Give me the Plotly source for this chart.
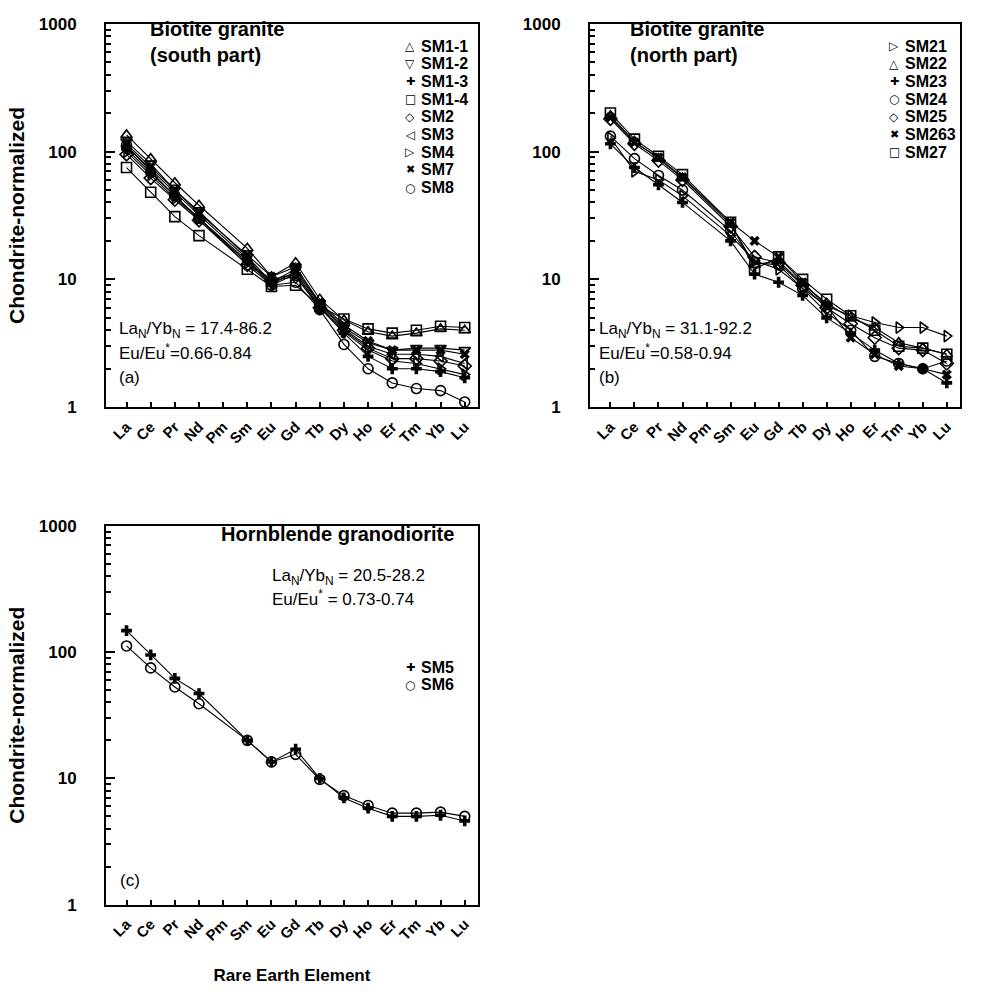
import plotly.graph_objects as go

elements = ["La", "Ce", "Pr", "Nd", "Pm", "Sm", "Eu", "Gd", "Tb", "Dy", "Ho", "Er", "Tm", "Yb", "Lu"]

# Panel (a): biotite granite, south part
SM1_1 = [135, 88, 57, 38, None, 17.5, 10.5, 13.5, 7.0, 4.8, 3.9, 3.6, 3.8, 4.1, 4.0]
SM1_2 = [120, 80, 50, 34, None, 15.0, 9.5, 12.0, 6.5, 4.2, 3.2, 2.8, 2.9, 2.9, 2.8]
SM1_3 = [105, 68, 45, 30, None, 14.0, 9.0, 11.0, 6.0, 3.8, 2.5, 2.0, 2.0, 1.9, 1.7]
SM1_4 = [75, 48, 31, 22, None, 12.0, 8.8, 9.0, 6.2, 4.9, 4.1, 3.8, 4.0, 4.3, 4.2]
SM2 = [95, 62, 42, 29, None, 13.0, 9.8, 10.5, 6.0, 4.0, 2.9, 2.4, 2.4, 2.3, 2.1]
SM3 = [110, 72, 48, 32, None, 14.5, 9.2, 11.5, 6.4, 4.1, 3.0, 2.6, 2.6, 2.5, 2.2]
SM4 = [100, 66, 43, 30, None, 13.5, 10.0, 11.0, 6.2, 3.9, 2.8, 2.3, 2.2, 2.0, 1.8]
SM7 = [115, 76, 50, 33, None, 15.5, 10.5, 12.5, 6.6, 4.4, 3.3, 2.8, 2.8, 2.8, 2.6]
SM8 = [112, 70, 45, 30, None, 13.0, 9.0, 9.5, 5.8, 3.1, 2.0, 1.55, 1.4, 1.35, 1.1]

# Panel (b): biotite granite, north part
SM21 = [128, 70, 60, 45, None, 22, 14, 12, 8.5, 6.2, 5.2, 4.6, 4.2, 4.2, 3.6]
SM22 = [190, 120, 88, 62, None, 27, 13, 14, 9.2, 6.5, 5.0, 4.2, 3.2, 2.9, 2.6]
SM23 = [115, 75, 55, 40, None, 20, 11, 9.5, 7.5, 5.0, 3.8, 2.8, 2.2, 2.0, 1.55]
SM24 = [132, 88, 65, 50, None, 24, 13.5, 13, 8.5, 5.5, 4.0, 2.5, 2.2, 2.0, 2.3]
SM25 = [180, 115, 85, 60, None, 26, 15, 13.5, 9.0, 6.0, 4.5, 3.5, 2.9, 2.8, 2.2]
SM263 = [185, 118, 90, 63, None, 28, 20, 15, 9.5, 6.2, 3.5, 2.6, 2.1, 2.0, 1.8]
SM27 = [200, 125, 92, 66, None, 28, 12, 15, 10, 7.0, 5.2, 4.0, 3.0, 2.9, 2.6]

# Panel (c): hornblende granodiorite
SM5 = [148, 95, 62, 47, None, 20, 13.5, 17, 10, 7.0, 5.8, 5.0, 5.0, 5.1, 4.6]
SM6 = [112, 75, 53, 39, None, 20, 13.5, 15.5, 9.8, 7.3, 6.1, 5.3, 5.3, 5.4, 5.0]

panel_a = [("SM1-1", SM1_1, "triangle-up-open", "△"), ("SM1-2", SM1_2, "triangle-down-open", "▽"),
           ("SM1-3", SM1_3, "cross", "✚"), ("SM1-4", SM1_4, "square-open", "□"),
           ("SM2", SM2, "diamond-open", "◇"), ("SM3", SM3, "triangle-left-open", "◁"),
           ("SM4", SM4, "triangle-right-open", "▷"), ("SM7", SM7, "x", "✖"), ("SM8", SM8, "circle-open", "○")]
panel_b = [("SM21", SM21, "triangle-right-open", "▷"), ("SM22", SM22, "triangle-up-open", "△"),
           ("SM23", SM23, "cross", "✚"), ("SM24", SM24, "circle-open", "○"),
           ("SM25", SM25, "diamond-open", "◇"), ("SM263", SM263, "x", "✖"), ("SM27", SM27, "square-open", "□")]
panel_c = [("SM5", SM5, "cross", "✚"), ("SM6", SM6, "circle-open", "○")]

W, H = 982, 995
FONT = "Liberation Sans, Arial, sans-serif"

fig = go.Figure()

def px(x):
    return x / W

def py(y):
    return 1 - y / H

def add_panel(series, xa, ya):
    for name, vals, sym, _ in series:
        filled = sym in ("cross", "x")
        fig.add_trace(go.Scatter(
            x=elements, y=vals, mode="lines+markers", connectgaps=True, name=name,
            xaxis=xa, yaxis=ya, showlegend=False,
            line=dict(color="black", width=1.1),
            marker=dict(symbol=sym, size=10 if not filled else 9, color="black",
                        line=dict(color="black", width=1.6 if not filled else 0)),
        ))

add_panel(panel_a, "x", "y")
add_panel(panel_b, "x2", "y2")
add_panel(panel_c, "x3", "y3")

minor_vals = [m * 10 ** e for e in range(0, 3) for m in range(2, 10)]

def xaxis(domain, anchor, title=None):
    d = dict(domain=domain, anchor=anchor, type="category", range=[-0.85, 14.55],
             categoryorder="array", categoryarray=elements,
             showline=True, linecolor="black", linewidth=2, mirror=True,
             ticks="inside", ticklen=5, tickwidth=1.5, tickcolor="black",
             showgrid=False, zeroline=False, showticklabels=True,
             tickangle=-45, ticklabelstandoff=3,
             tickfont=dict(family=FONT, size=15, color="black"))
    if title:
        d["title"] = dict(text="<b>" + title + "</b>", font=dict(family=FONT, size=17, color="black"), standoff=26)
    return d

def yaxis(domain, anchor, title=None):
    d = dict(domain=domain, anchor=anchor, type="log", range=[0, 3],
             tickvals=[1, 10, 100, 1000], ticktext=["<b>1</b>", "<b>10</b>", "<b>100</b>", "<b>1000</b>"],
             showline=True, linecolor="black", linewidth=2, mirror=True,
             ticks="inside", ticklen=9, tickwidth=1.5, tickcolor="black",
             minor=dict(tickvals=minor_vals, ticks="inside", ticklen=5, tickwidth=1.5, tickcolor="black", showgrid=False),
             showgrid=False, zeroline=False, ticklabelstandoff=24,
             tickfont=dict(family=FONT, size=17, color="black"))
    if title:
        d["title"] = dict(text="<b>" + title + "</b>", font=dict(family=FONT, size=21, color="black"), standoff=8)
    return d

TOP_AB, BOT_AB = 15, 406
TOP_C, BOT_C = 527, 913
ya_dom = [py(BOT_AB), py(TOP_AB)]
yc_dom = [py(BOT_C), py(TOP_C)]
xa_dom = [px(106), px(478)]
xb_dom = [px(590), px(960)]

fig.update_layout(
    width=W, height=H, margin=dict(l=0, r=0, t=0, b=0),
    paper_bgcolor="white", plot_bgcolor="white", showlegend=False,
    xaxis=xaxis(xa_dom, "y"), yaxis=yaxis(ya_dom, "x", "Chondrite-normalized"),
    xaxis2=xaxis(xb_dom, "y2"), yaxis2=yaxis(ya_dom, "x2"),
    xaxis3=xaxis(xa_dom, "y3", "Rare Earth Element"), yaxis3=yaxis(yc_dom, "x3", "Chondrite-normalized"),
)
tick_text = ["<b>" + e + "</b>" for e in elements]
fig.update_xaxes(tickmode="array", tickvals=elements, ticktext=tick_text, tickangle=-45)

def note(x, y, text, size=17, bold=False, xanchor="left", family=FONT, yanchor="top"):
    fig.add_annotation(xref="paper", yref="paper", x=px(x), y=py(y),
                       text="<b>" + text + "</b>" if bold else text,
                       showarrow=False, xanchor=xanchor, yanchor=yanchor, align="left",
                       font=dict(family=family, size=size, color="black"))

def legend_rows(series, xsym, xtext, y0, step=18):
    for i, (name, _, sym, glyph) in enumerate(series):
        yc = y0 + i * step
        note(xsym, yc, glyph, size=12 if glyph not in ("✚", "✖") else 11, xanchor="center",
             family="DejaVu Sans", yanchor="middle")
        note(xtext, yc, name, size=16, bold=True, yanchor="middle")

legend_rows(panel_a, 410, 419, 38)
legend_rows(panel_b, 894, 903, 38)
legend_rows(panel_c, 410, 419, 671)

note(148, 7, "Biotite granite<br>(south part)", size=20, bold=True)
note(117, 314, "La<sub>N</sub>/Yb<sub>N</sub> = 17.4-86.2")
note(117, 336, "Eu/Eu<sup>*</sup>=0.66-0.84")
note(117, 364, "(a)", size=17)

note(628, 7, "Biotite granite<br>(north part)", size=20, bold=True)
note(597, 314, "La<sub>N</sub>/Yb<sub>N</sub> = 31.1-92.2")
note(597, 336, "Eu/Eu<sup>*</sup>=0.58-0.94")
note(597, 364, "(b)", size=17)

note(219, 522, "Hornblende granodiorite", size=20, bold=True)
note(270, 566, "La<sub>N</sub>/Yb<sub>N</sub> = 20.5-28.2")
note(270, 587, "Eu/Eu<sup>*</sup> = 0.73-0.74")
note(118, 877, "(c)", size=17)

fig.write_html("out.html")
